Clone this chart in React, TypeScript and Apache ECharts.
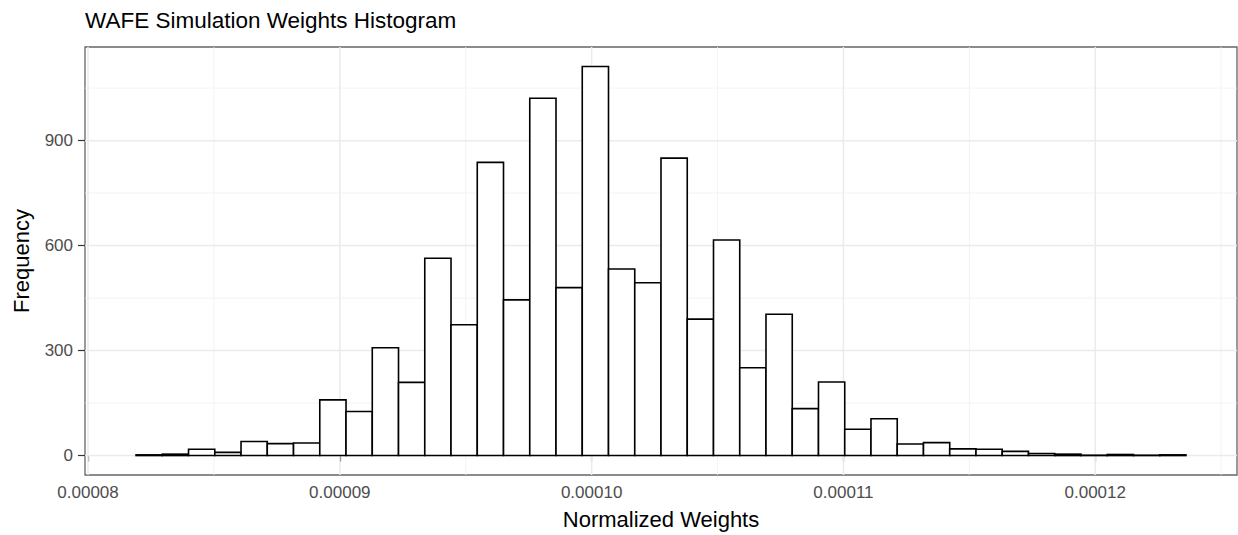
import React, { useEffect, useRef } from "react";
import * as echarts from "echarts";

// ---- Data ----
const binStart = 0.000081907; // left edge of first bin
const binWidth = 0.0000010424; // width of each bin
const counts = [
  2, 4, 18, 9, 40, 34, 36, 159, 126, 308,
  209, 564, 374, 838, 445, 1021, 480, 1112, 533, 494,
  850, 390, 616, 251, 404, 134, 210, 75, 105, 33,
  37, 19, 18, 12, 6, 4, 1, 3, 1, 2,
];
const xTicks = [0.00008, 0.00009, 0.0001, 0.00011, 0.00012];
const xMinor = [0.000085, 0.000095, 0.000105, 0.000115, 0.000125];
const yTicks = [0, 300, 600, 900];
const yMinor = [150, 450, 750, 1050];

const X_MIN = 0.00007988;
const X_MAX = 0.00012563;
const Y_MIN = -55.6;
const Y_MAX = 1167.6;

const FONT = "'Liberation Sans', Arial, Helvetica, sans-serif";

function gridLineSeries(values: number[], dir: "x" | "y", width: number, color: string) {
  return {
    type: "custom",
    silent: true,
    z: 1,
    data: values.map((v) => [v]),
    renderItem: (params: any, api: any) => {
      const cs = params.coordSys;
      const v = api.value(0);
      if (dir === "x") {
        const x = api.coord([v, 0])[0];
        return {
          type: "line",
          shape: { x1: x, y1: cs.y, x2: x, y2: cs.y + cs.height },
          style: { stroke: color, lineWidth: width },
        };
      }
      const y = api.coord([X_MIN, v])[1];
      return {
        type: "line",
        shape: { x1: cs.x, y1: y, x2: cs.x + cs.width, y2: y },
        style: { stroke: color, lineWidth: width },
      };
    },
  };
}

export default function App() {
  const ref = useRef<HTMLDivElement>(null);
  useEffect(() => {
    document.body.style.margin = "0";
    if (!ref.current) return;
    const chart = echarts.init(ref.current, undefined, { renderer: "svg" });
    const barData = counts.map((c, i) => [
      binStart + i * binWidth,
      binStart + (i + 1) * binWidth,
      c,
    ]);
    chart.setOption({
      animation: false,
      backgroundColor: "#ffffff",
      title: {
        text: "WAFE Simulation Weights Histogram",
        left: 80,
        top: 4,
        textStyle: { fontFamily: FONT, fontSize: 22.5, fontWeight: "normal", color: "#000" },
      },
      grid: {
        left: 85,
        right: 1,
        top: 47,
        bottom: 58,
        show: true,
        borderColor: "#666666",
        borderWidth: 1.3,
        backgroundColor: "#ffffff",
      },
      xAxis: {
        type: "value",
        min: X_MIN,
        max: X_MAX,
        name: "Normalized Weights",
        nameLocation: "middle",
        nameGap: 33,
        nameTextStyle: { fontFamily: FONT, fontSize: 22, color: "#000" },
        axisLine: { show: false },
        splitLine: { show: false },
        axisTick: {
          show: true,
          customValues: xTicks,
          length: 6,
          lineStyle: { color: "#333333", width: 1.2 },
        },
        axisLabel: {
          customValues: xTicks,
          formatter: (v: number) => Number(v).toFixed(5),
          margin: 9,
          fontFamily: FONT,
          fontSize: 17,
          color: "#4d4d4d",
        },
      },
      yAxis: {
        type: "value",
        min: Y_MIN,
        max: Y_MAX,
        name: "Frequency",
        nameLocation: "middle",
        nameRotate: 90,
        nameGap: 53,
        nameTextStyle: { fontFamily: FONT, fontSize: 22, color: "#000" },
        axisLine: { show: false },
        splitLine: { show: false },
        axisTick: {
          show: true,
          customValues: yTicks,
          length: 7,
          lineStyle: { color: "#333333", width: 1.2 },
        },
        axisLabel: {
          customValues: yTicks,
          formatter: (v: number) => String(Math.round(v)),
          margin: 12,
          fontFamily: FONT,
          fontSize: 17,
          color: "#4d4d4d",
        },
      },
      series: [
        gridLineSeries(xMinor, "x", 0.8, "#f0f0f0"),
        gridLineSeries(yMinor, "y", 0.8, "#f0f0f0"),
        gridLineSeries(xTicks, "x", 1.5, "#ebebeb"),
        gridLineSeries(yTicks, "y", 1.5, "#ebebeb"),
        {
          type: "custom",
          name: "Frequency",
          z: 10,
          data: barData,
          encode: { x: [0, 1], y: 2 },
          renderItem: (params: any, api: any) => {
            const p0 = api.coord([api.value(0), api.value(2)]);
            const p1 = api.coord([api.value(1), 0]);
            return {
              type: "rect",
              shape: { x: p0[0], y: p0[1], width: p1[0] - p0[0], height: p1[1] - p0[1] },
              style: { fill: "#ffffff", stroke: "#000000", lineWidth: 1.6 },
            };
          },
        },
      ],
    });
    return () => chart.dispose();
  }, []);
  return (
    <div
      ref={ref}
      style={{ position: "fixed", left: 0, top: 0, width: 1238, height: 535 }}
    />
  );
}
